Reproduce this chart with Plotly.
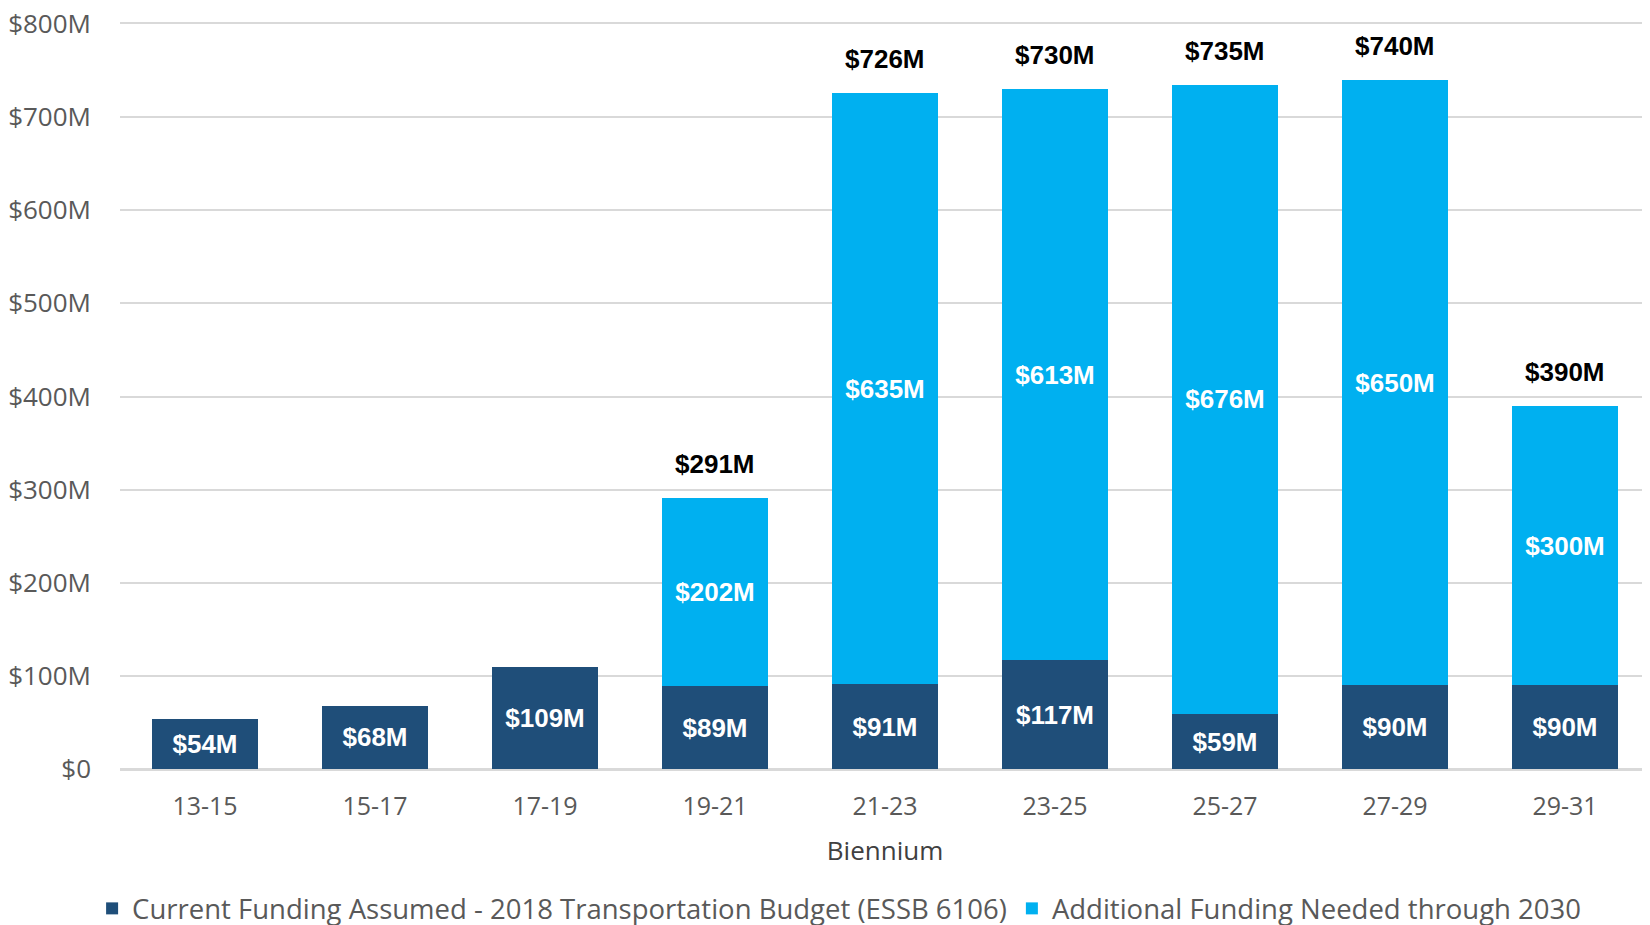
import plotly.graph_objects as go

# Biennium funding, $M
bienniums = ["13-15", "15-17", "17-19", "19-21", "21-23", "23-25", "25-27", "27-29", "29-31"]
current_funding = [54, 68, 109, 89, 91, 117, 59, 90, 90]
additional_funding = [None, None, None, 202, 635, 613, 676, 650, 300]
total_bienniums = ["19-21", "21-23", "23-25", "25-27", "27-29", "29-31"]
totals = [291, 726, 730, 735, 740, 390]

y_ticks = [0, 100, 200, 300, 400, 500, 600, 700, 800]
y_tick_labels = ["$0", "$100M", "$200M", "$300M", "$400M", "$500M", "$600M", "$700M", "$800M"]

DARK = "#1F4E79"
LIGHT = "#00B0F0"
GRID = "#D9D9D9"
LABEL_FONT = "Liberation Sans, Arial, sans-serif"
AXIS_FONT = "Open Sans, sans-serif"

fig = go.Figure()

fig.add_trace(go.Bar(
    x=bienniums,
    y=current_funding,
    name="Current Funding Assumed - 2018 Transportation Budget (ESSB 6106)",
    marker=dict(color=DARK, line=dict(width=0)),
    text=[f"${v}M" for v in current_funding],
    textposition="inside",
    insidetextanchor="middle",
    textangle=0,
    textfont=dict(family=LABEL_FONT, size=26, color="white", weight="bold"),
))

fig.add_trace(go.Bar(
    x=bienniums,
    y=additional_funding,
    name="Additional Funding Needed through 2030",
    marker=dict(color=LIGHT, line=dict(width=0)),
    text=[f"${v}M" if v else "" for v in additional_funding],
    textposition="inside",
    insidetextanchor="middle",
    textangle=0,
    textfont=dict(family=LABEL_FONT, size=26, color="white", weight="bold"),
))

# totals above the stacks
for cat, tot in zip(total_bienniums, totals):
    fig.add_annotation(
        x=cat, y=tot,
        text=f"${tot}M",
        showarrow=False,
        yanchor="bottom",
        yshift=17,
        font=dict(family=LABEL_FONT, size=26, color="black", weight="bold"),
    )

# page body has an 8px left margin, so trim the width to fit the window
fig.update_layout(
    width=1642,
    height=925,
    barmode="stack",
    bargap=0.378,
    plot_bgcolor="white",
    paper_bgcolor="white",
    margin=dict(l=112, r=0, t=16, b=161),
    uniformtext=dict(mode=False),
    legend=dict(
        orientation="h",
        traceorder="normal",
        x=0.47,
        xanchor="center",
        y=-0.188,
        yanchor="middle",
        font=dict(family=AXIS_FONT, size=27.5, color="#595959"),
    ),
)

# mirrored x line gives the top ($800M) and bottom ($0) rules
fig.update_xaxes(
    type="category",
    showgrid=False,
    showline=True,
    mirror=True,
    linecolor=GRID,
    linewidth=2,
    tickfont=dict(family=AXIS_FONT, size=25, color="#595959"),
    ticklabelstandoff=14,
    title=dict(text="Biennium", font=dict(family=AXIS_FONT, size=26, color="#404040"), standoff=21),
)

fig.update_yaxes(
    range=[0, 800],
    tickvals=y_ticks,
    ticktext=y_tick_labels,
    showgrid=True,
    gridcolor=GRID,
    gridwidth=2,
    zeroline=True,
    zerolinecolor=GRID,
    zerolinewidth=2,
    tickfont=dict(family=AXIS_FONT, size=26, color="#595959"),
    ticklabelstandoff=28,
    ticklabeloverflow="allow",
    automargin=False,
)

fig.write_html("out.html")
